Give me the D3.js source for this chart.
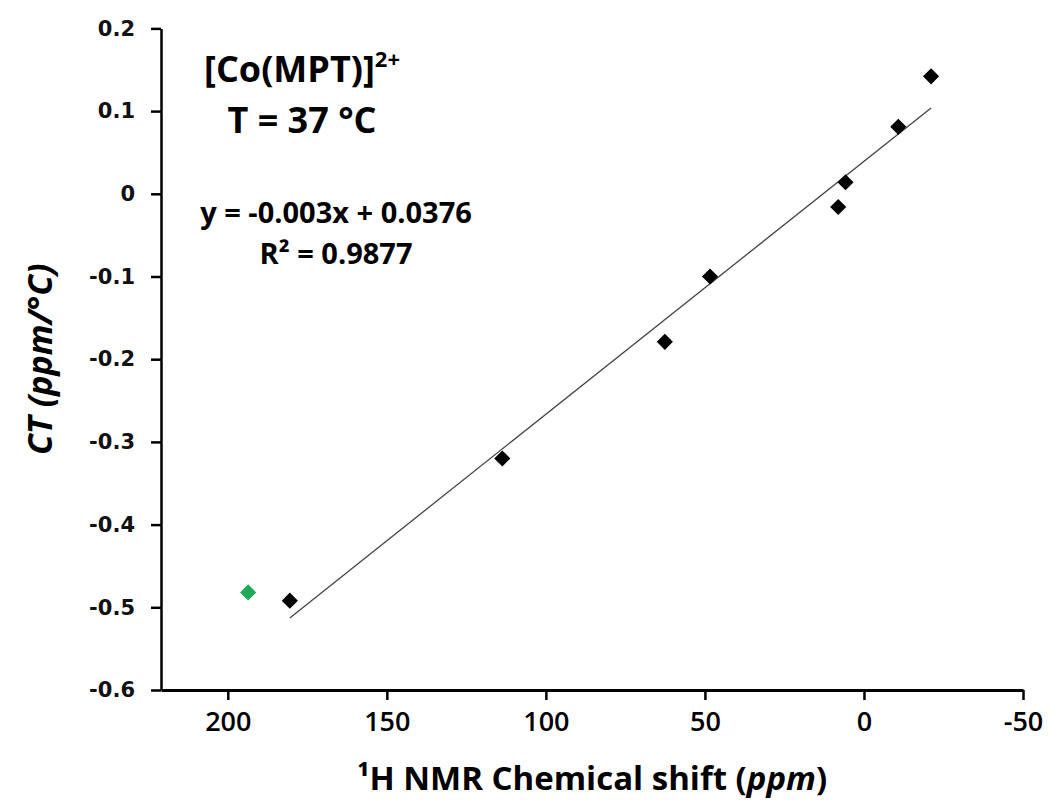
<!DOCTYPE html>
<html>
<head>
<meta charset="utf-8">
<script src="https://cdn.jsdelivr.net/npm/d3@7"></script>
<style>
  body { margin: 0; background: #fff; }
  svg { display: block; }
</style>
</head>
<body>
<script>
// black series: 1H shift (ppm) vs temperature coefficient CT (ppm/°C)
const shift = [180.5, 113.7, 62.6, 48.4, 8.1, 5.8, -10.8, -21.1];
const ct = [-0.492, -0.320, -0.179, -0.100, -0.016, 0.014, 0.081, 0.142];
// green point, left out of the fit
const outlierShift = [193.6];
const outlierCT = [-0.482];

const xTicks = [200, 150, 100, 50, 0, -50];
const yTicks = [0.2, 0.1, 0, -0.1, -0.2, -0.3, -0.4, -0.5, -0.6];

const width = 1049, height = 800;
const font = "'Open Sans', sans-serif";

const svg = d3.select("body").append("svg")
    .attr("width", width)
    .attr("height", height);

const x = d3.scaleLinear().domain([221, -50]).range([161, 1023]);
const y = d3.scaleLinear().domain([-0.6, 0.2]).range([690, 28.4]);

const fmt = d => String(d);

// axes
const gx = svg.append("g")
    .attr("transform", "translate(0," + y(-0.6) + ")")
    .call(d3.axisBottom(x).tickValues(xTicks).tickSize(10).tickSizeOuter(0).tickPadding(12).tickFormat(fmt));
gx.select(".domain").attr("stroke", "#000").attr("stroke-width", 3);
gx.selectAll(".tick line").attr("stroke", "#000").attr("stroke-width", 2.5);
gx.selectAll(".tick text")
    .attr("font-family", font)
    .attr("font-weight", 600)
    .attr("font-size", 27)
    .attr("fill", "#000");

const gy = svg.append("g")
    .attr("transform", "translate(" + x(221) + ",0)")
    .call(d3.axisLeft(y).tickValues(yTicks).tickSize(10).tickSizeOuter(0).tickPadding(16).tickFormat(fmt));
gy.select(".domain").attr("stroke", "#000").attr("stroke-width", 2.5);
gy.selectAll(".tick line").attr("stroke", "#000").attr("stroke-width", 2.5);
gy.selectAll(".tick text")
    .attr("font-family", "'DejaVu Sans', sans-serif")
    .attr("font-weight", "bold")
    .attr("font-size", 21)
    .attr("fill", "#111");

// least squares fit of the black series
const mx = d3.mean(shift), my = d3.mean(ct);
const sxy = d3.sum(shift, (v, i) => (v - mx) * (ct[i] - my));
const sxx = d3.sum(shift, v => (v - mx) * (v - mx));
const slope = sxy / sxx, icpt = my - slope * mx;
const ends = d3.extent(shift);

svg.append("line")
    .attr("x1", x(ends[0])).attr("y1", y(slope * ends[0] + icpt))
    .attr("x2", x(ends[1])).attr("y2", y(slope * ends[1] + icpt))
    .attr("stroke", "#444")
    .attr("stroke-width", 1.3);

// markers: square turned 45 degrees, like the spreadsheet diamond
const diamond = d3.symbol(d3.symbolSquare, 130);

svg.append("g").selectAll("path")
    .data(shift)
    .enter().append("path")
        .attr("d", diamond)
        .attr("transform", (d, i) => "translate(" + x(d) + "," + y(ct[i]) + ") rotate(45)")
        .attr("fill", "#000");

svg.append("g").selectAll("path")
    .data(outlierShift)
    .enter().append("path")
        .attr("d", diamond)
        .attr("transform", (d, i) => "translate(" + x(d) + "," + y(outlierCT[i]) + ") rotate(45)")
        .attr("fill", "#1faa55");

// in-plot labels
const t1 = svg.append("text")
    .attr("x", 302).attr("y", 82)
    .attr("text-anchor", "middle")
    .attr("font-family", font).attr("font-weight", "bold").attr("font-size", 36);
t1.append("tspan").text("[Co(MPT)]");
t1.append("tspan").attr("font-size", 22).attr("dy", -15).text("2+");

svg.append("text")
    .attr("x", 302).attr("y", 133)
    .attr("text-anchor", "middle")
    .attr("font-family", font).attr("font-weight", "bold").attr("font-size", 36)
    .text("T = 37 \u00B0C");

svg.append("text")
    .attr("x", 336).attr("y", 223)
    .attr("text-anchor", "middle")
    .attr("font-family", font).attr("font-weight", "bold").attr("font-size", 29)
    .text("y = -0.003x + 0.0376");

svg.append("text")
    .attr("x", 336).attr("y", 264)
    .attr("text-anchor", "middle")
    .attr("font-family", font).attr("font-weight", "bold").attr("font-size", 29)
    .text("R\u00B2 = 0.9877");

// axis titles
const xt = svg.append("text")
    .attr("x", 592).attr("y", 790)
    .attr("text-anchor", "middle")
    .attr("font-family", font).attr("font-weight", "bold").attr("font-size", 33);
xt.append("tspan").text("\u00B9H NMR Chemical shift (");
xt.append("tspan").attr("font-style", "italic").text("ppm");
xt.append("tspan").text(")");

svg.append("text")
    .attr("transform", "translate(52," + y(-0.2) + ") rotate(-90)")
    .attr("text-anchor", "middle")
    .attr("font-family", font).attr("font-weight", "bold").attr("font-style", "italic").attr("font-size", 34)
    .text("CT (ppm/\u00B0C)");
</script>
</body>
</html>
